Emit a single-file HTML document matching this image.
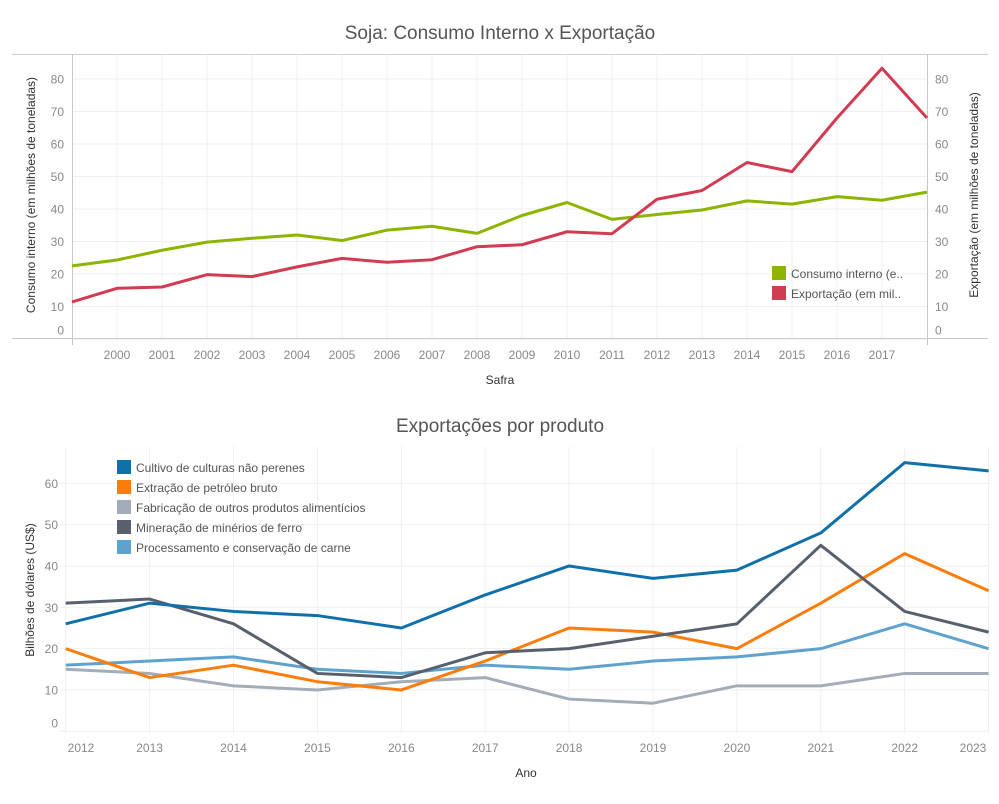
<!DOCTYPE html>
<html><head><meta charset="utf-8"><style>
body{margin:0;background:#fff;width:999px;height:799px;overflow:hidden;font-family:"Liberation Sans",sans-serif}
svg text{font-family:"Liberation Sans",sans-serif}
</style></head><body>
<svg id="c" width="999" height="799">
<text x="500" y="39" text-anchor="middle" font-size="19" fill="#555">Soja: Consumo Interno x Exportação</text>
<text x="500" y="432" text-anchor="middle" font-size="19" fill="#555">Exportações por produto</text>
<g id="top"></g>
<g id="bot"></g>
</svg>
<script>
const topYears=[1999,2000,2001,2002,2003,2004,2005,2006,2007,2008,2009,2010,2011,2012,2013,2014,2015,2016,2017,2018];
const consumo=[22.5,24.3,27.3,29.8,31,32,30.3,33.5,34.7,32.5,38,42,36.8,38.3,39.7,42.5,41.5,43.8,42.7,45.2];
const exportacao=[11.4,15.6,16,19.8,19.2,22.2,24.8,23.6,24.4,28.4,29,33,32.4,43,45.7,54.3,51.5,68,83.3,68];
const topTicks=[0,10,20,30,40,50,60,70,80];
const botYears=[2012,2013,2014,2015,2016,2017,2018,2019,2020,2021,2022,2023];
const cultivo=[26,31,29,28,25,33,40,37,39,48,65,63];
const extracao=[20,13,16,12,10,17,25,24,20,31,43,34];
const fabricacao=[15,14,11,10,12,13,7.8,6.8,11,11,14,14];
const mineracao=[31,32,26,14,13,19,20,23,26,45,29,24];
const processamento=[16,17,18,15,14,16,15,17,18,20,26,20];
const botTicks=[0,10,20,30,40,50,60];
const NS='http://www.w3.org/2000/svg';
function mk(p,t,a,txt){const e=document.createElementNS(NS,t);for(const k in a)e.setAttribute(k,a[k]);if(txt!==undefined)e.textContent=txt;p.appendChild(e);return e;}
// TOP
const T=document.getElementById('top');
const tx=y=>72+(y-1999)*45, ty=v=>339-3.25*v;
topTicks.forEach(v=>{const g=mk(T,'line',{x1:72,x2:927,y1:ty(v),y2:ty(v),stroke:'#efefef'});

const l=mk(T,'text',{x:64,y:(v===0?330:ty(v))+4.5,'text-anchor':'end','font-size':12,fill:'#888'},v);

const r=mk(T,'text',{x:935,y:(v===0?330:ty(v))+4.5,'font-size':12,fill:'#888'},v);
});
topYears.forEach(y=>{if(y>1999&&y<2018){const g=mk(T,'line',{x1:tx(y),x2:tx(y),y1:55,y2:338,stroke:'#efefef'});

const l=mk(T,'text',{x:tx(y),y:359,'text-anchor':'middle','font-size':12,fill:'#888'},y);
}});
mk(T,'line',{x1:12,x2:988,y1:54.5,y2:54.5,stroke:'#d0d0d0'});
mk(T,'line',{x1:12,x2:988,y1:338.5,y2:338.5,stroke:'#c8c8c8'});
mk(T,'line',{x1:72.5,x2:72.5,y1:55,y2:345,stroke:'#c8c8c8'});
mk(T,'line',{x1:927.5,x2:927.5,y1:55,y2:345,stroke:'#c8c8c8'});
[[consumo,'#8cb400','line-consumo'],[exportacao,'#d13c52','line-exportacao']].forEach(([d,c,n])=>{
const p=mk(T,'polyline',{points:d.map((v,i)=>tx(topYears[i])+','+ty(v)).join(' '),fill:'none',stroke:c,'stroke-width':3,'stroke-linejoin':'round'});
});
const a1=mk(T,'text',{transform:'translate(35,195) rotate(-90)','text-anchor':'middle','font-size':12,fill:'#333'},'Consumo interno (em milhões de toneladas)');

const a2=mk(T,'text',{transform:'translate(978,195) rotate(-90)','text-anchor':'middle','font-size':12,fill:'#333'},'Exportação (em milhões de toneladas)');

const a3=mk(T,'text',{x:500,y:384,'text-anchor':'middle','font-size':12,fill:'#333'},'Safra');

[['#8cb400','Consumo interno (e..',266],['#d13c52','Exportação (em mil..',286]].forEach(([c,t,y])=>{
const r=mk(T,'rect',{x:772,y:y,width:14,height:14,fill:c});
const l=mk(T,'text',{x:791,y:y+12,'font-size':12,fill:'#555'},t);});
// BOTTOM
const B=document.getElementById('bot');
const bx=y=>65.7+(y-2012)*83.9, by=v=>731.3-4.133*v;
botTicks.forEach(v=>{const g=mk(B,'line',{x1:60,x2:988,y1:by(v),y2:by(v),stroke:'#efefef'});

const l=mk(B,'text',{x:58,y:(v===0?723:by(v))+4.5,'text-anchor':'end','font-size':12,fill:'#888'},v);
});
botYears.forEach(y=>{const g=mk(B,'line',{x1:bx(y),x2:bx(y),y1:447,y2:734,stroke:'#efefef'});

const l=mk(B,'text',{x:y===2012?81:(y===2023?973:bx(y)),y:752,'text-anchor':'middle','font-size':12,fill:'#888'},y);
});
const series=[[cultivo,'#1170aa','Cultivo de culturas não perenes'],[extracao,'#fc7d0b','Extração de petróleo bruto'],[fabricacao,'#a3acb9','Fabricação de outros produtos alimentícios'],[mineracao,'#57606c','Mineração de minérios de ferro'],[processamento,'#5fa2ce','Processamento e conservação de carne']];
[2,4,1,3,0].forEach(i=>{const [d,c]=series[i];
const p=mk(B,'polyline',{points:d.map((v,j)=>bx(botYears[j])+','+by(v)).join(' '),fill:'none',stroke:c,'stroke-width':3,'stroke-linejoin':'round'});
});
series.forEach(([d,c,t],i)=>{const y=460+i*20;
const r=mk(B,'rect',{x:117,y:y,width:14,height:14,fill:c});
const l=mk(B,'text',{x:136,y:y+12,'font-size':12,fill:'#555'},t);});
const b1=mk(B,'text',{transform:'translate(34,590) rotate(-90)','text-anchor':'middle','font-size':12,fill:'#333'},'Bilhões de dólares (US$)');

const b2=mk(B,'text',{x:526,y:777,'text-anchor':'middle','font-size':12,fill:'#333'},'Ano');

</script>
</body></html>
